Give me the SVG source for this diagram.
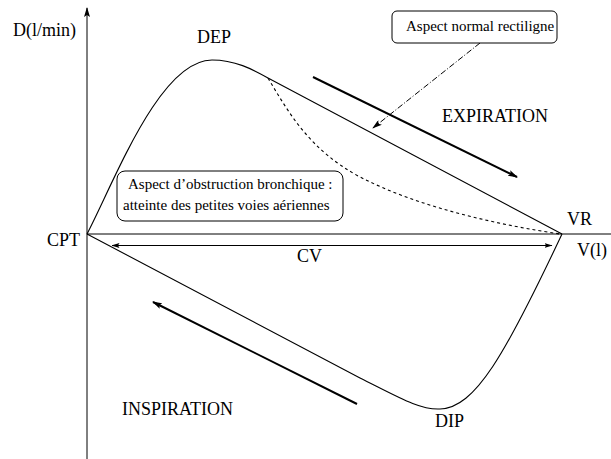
<svg xmlns="http://www.w3.org/2000/svg" width="611" height="459" viewBox="0 0 611 459">
<style>
text{font-family:"Liberation Serif","Times New Roman",serif;fill:#000}
.big{font-size:18px}
.small{font-size:15px}
.curve{fill:none;stroke:#000;stroke-width:1.1}
.axis{fill:none;stroke:#000;stroke-width:1}
.thick{fill:none;stroke:#000;stroke-width:2}
.box{fill:#fff;stroke:#000;stroke-width:1}
</style>
<defs>
<marker id="ah" markerWidth="10" markerHeight="6" refX="9" refY="3" orient="auto" markerUnits="userSpaceOnUse">
<path d="M0,0 L10,3 L0,6 L2,3 Z" fill="#000"/>
</marker>
<marker id="ahs" markerWidth="8" markerHeight="5" refX="7.5" refY="2.5" orient="auto-start-reverse" markerUnits="userSpaceOnUse">
<path d="M0,0 L8,2.5 L0,5 L1.5,2.5 Z" fill="#000"/>
</marker>
</defs>
<rect width="611" height="459" fill="#fff"/>
<g id="connectors">
<line class="axis" x1="87" y1="459" x2="87" y2="8" marker-end="url(#ah)"/>
<line class="axis" x1="87" y1="234" x2="611" y2="234"/>
<line class="axis" x1="552" y1="245.5" x2="112" y2="245.5" marker-start="url(#ahs)" marker-end="url(#ahs)"/>
<path class="curve" d="M87,234 C115,180 160,60 212,60 C235,60 252,69 268,78 L562,234"/>
<path class="curve" d="M268,78 C290,115 310,150 360,177 C420,208 500,225 560,234" stroke-dasharray="3,3"/>
<path class="curve" d="M87,234 L360,378 C400,398 420,410 440,409 C475,408 505,355 562,234"/>
<line class="thick" x1="313" y1="77" x2="517" y2="177" marker-end="url(#ah)"/>
<line class="thick" x1="357" y1="404" x2="153" y2="302" marker-end="url(#ah)"/>
<line class="axis" x1="480" y1="43" x2="373" y2="128" stroke-dasharray="6,2,1,2" marker-end="url(#ah)"/>
</g>
<g id="axis-labels">
<text class="big" x="13" y="36">D(l/min)</text>
<text class="big" x="577" y="256">V(l)</text>
</g>
<g id="node-DEP"><text class="big" x="197" y="43">DEP</text></g>
<g id="node-CPT"><text class="big" x="47" y="246">CPT</text></g>
<g id="node-VR"><text class="big" x="567" y="225">VR</text></g>
<g id="node-DIP"><text class="big" x="435" y="427">DIP</text></g>
<g id="node-CV"><text class="big" x="297" y="262">CV</text></g>
<g id="node-EXPIRATION"><text class="big" x="442" y="122">EXPIRATION</text></g>
<g id="node-INSPIRATION"><text class="big" x="122" y="415">INSPIRATION</text></g>
<g id="node-normal">
<rect class="box" x="392" y="11" width="165" height="32" rx="5"/>
<text class="small" x="406" y="31">Aspect normal rectiligne</text>
</g>
<g id="node-obstruction">
<rect class="box" x="117" y="171" width="226" height="50" rx="8"/>
<text class="small" x="128" y="189">Aspect d’obstruction bronchique :</text>
<text class="small" x="123" y="210">atteinte des petites voies aériennes</text>
</g>
</svg>
